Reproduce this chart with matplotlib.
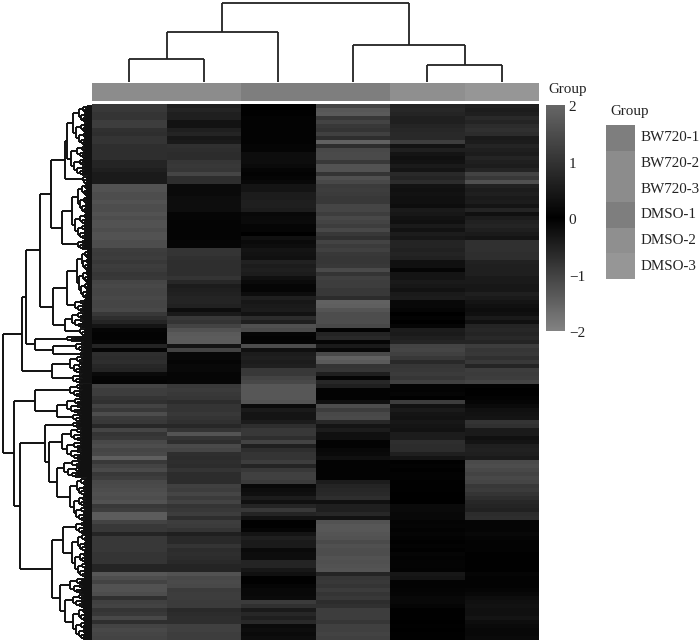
import matplotlib
matplotlib.use('Agg')
import matplotlib.pyplot as plt
import numpy as np
from matplotlib.collections import LineCollection
from matplotlib.colors import LinearSegmentedColormap

plt.rcParams['font.family'] = ['Liberation Serif', 'DejaVu Serif']

W, H = 700, 643

# heatmap rows, top to bottom, column by column
col_a = [1.1,1.1,1.0,1.0,1.2,1.2,.95,.9,1.0,1.0,.9,.9,.9,.9,.7,.7,.6,.5,.5,.5,1.6,1.6,1.5,1.5,1.6,1.5,1.5,1.6,1.5,1.6,1.6,1.5,1.6,1.6,
         1.5,1.5,1.2,1.15,1.2,1.1,1.2,1.15,1.05,1.1,1.35,1.4,1.35,1.35,1.4,1.35,1.35,1.4,1.1,.9,.7,.4,.1,.05,.05,.1,.7,.1,.9,.85,.9,.75,.7,.2,.1,
         .05,1.3,1.2,1.2,1.0,.95,1.3,1.1,1.5,1.15,1.1,.75,1.35,1.0,1.1,1.4,1.5,1.35,1.4,1.85,1.1,1.3,1.45,1.1,1.2,1.4,1.45,1.5,1.55,1.5,1.6,1.1,1.2,
         1.8,1.8,1.3,1.1,1.1,.7,1.1,1.1,1.1,1.1,1.0,1.0,1.0,.7,.7,1.7,1.5,1.3,1.6,1.6,1.5,.95,1.25,1.3,1.0,1.1,1.4,.9,1.3,1.4,1.35,1.3]
col_b = [.6,.7,.6,.6,.35,.35,.6,.7,.45,.5,.95,.9,.85,.85,1.05,1.1,1.05,1.35,.9,.9,.2,.2,.2,.25,.25,.25,.25,.1,.1,.08,.08,.08,.08,.08,
         .1,.1,1.0,1.0,.95,.9,.9,.9,.9,1.0,.75,.55,.6,.65,.7,.7,.65,.25,.5,1.1,1.0,1.3,1.6,1.75,1.8,1.75,.35,1.3,.15,.15,.1,.15,.15,.1,.1,
         .1,1.1,1.15,1.1,1.05,.85,1.0,1.0,1.1,1.0,.95,.75,1.0,1.65,1.0,.9,1.45,1.35,.9,.85,.9,.85,1.0,.85,.85,.85,1.25,1.2,1.35,1.15,1.3,1.0,1.1,
         1.2,.9,1.2,1.15,1.0,.6,.8,.8,1.0,.85,.9,.85,.8,.7,.7,1.6,1.4,1.45,1.4,1.15,1.2,1.2,1.15,1.15,.8,.85,.9,.9,1.25,1.25,1.2,1.2]
col_c = [.02,.02,.02,.05,.05,.05,.05,.05,.05,.05,.1,.1,.25,.25,.25,.2,.1,.05,.1,.15,.4,.4,.55,.55,.6,.6,.55,.15,.2,.2,.1,.1,0,.3,
         .2,.25,.4,.35,.3,.65,.55,.6,.55,.3,.2,.1,.1,.25,.6,.45,.5,.55,.35,.85,.6,1.55,1.45,.1,.05,.1,1.5,.3,.55,.6,.55,.6,1.1,1.1,1.3,
         1.4,1.7,1.7,1.7,1.7,1.65,.2,.5,.4,.4,.55,.9,1.1,1.1,.9,1.3,.6,.9,1.0,1.0,1.2,.7,1.1,1.25,1.25,1.15,.15,.25,.3,.55,.3,.7,1.1,
         .7,.35,.02,.02,.1,.4,.6,.5,.5,.2,.25,.25,.7,.7,.45,.3,.02,.02,.1,.15,.15,.2,1.15,.95,.5,.75,.6,.8,.2,.25,.2,.25]
col_d = [1.35,1.7,1.75,1.1,1.3,1.1,1.0,1.25,.9,1.9,.9,1.4,1.45,1.45,1.1,1.6,1.6,1.0,1.55,1.4,1.15,1.2,1.15,1.1,1.1,1.35,1.35,1.2,1.4,1.3,1.2,1.4,1.1,.95,
         1.3,1.15,1.25,1.1,1.05,1.05,1.1,1.45,1.0,1.25,1.2,1.2,1.1,1.1,.85,1.9,1.85,1.65,1.5,1.5,1.5,1.4,.05,.7,.8,.1,.5,.15,1.45,1.9,1.75,1.0,1.05,.6,.1,
         .75,.6,.05,.05,.05,.3,1.5,1.2,1.4,1.45,.75,.4,.55,.3,.3,.05,.05,.15,.2,.3,.05,.05,.05,.05,.05,.55,.7,.75,.8,.9,.3,.6,.6,
         .75,.35,1.6,1.7,1.7,1.65,1.6,1.45,1.55,1.5,1.5,1.6,1.55,1.6,1.65,.7,1.05,1.1,1.0,1.15,1.0,1.1,.85,.95,1.2,1.2,1.2,1.05,1.25,1.25,1.3,1.25]
col_e = [.7,.75,.7,.6,.6,.7,.75,.8,.8,1.2,.35,.6,.4,.3,.35,.5,.4,.8,.7,.85,.35,.3,.35,.3,.3,.25,.5,.45,.35,.3,.5,.35,.55,.45,
         .7,.7,.65,.7,.65,.3,.3,.1,.4,.4,.5,.45,.35,.5,.55,.15,.15,.1,0,.05,0,.1,.55,.5,.6,.7,1.3,1.35,1.25,1.1,.8,1.05,1.1,1.15,1.05,
         1.25,.05,.05,.1,.02,1.2,.35,.5,.4,.35,.45,.4,.35,.55,.55,.9,.85,.85,.6,.4,.02,.05,.02,.05,.05,.02,.02,.02,0,0,0,.2,.2,
         .15,.15,.08,.1,.05,.1,.05,.02,.05,.02,.1,.05,.08,.08,.05,.45,.4,.05,.05,.08,.1,.15,.15,.1,.02,.02,.02,0,.02,0,.02,.02]
col_f = [.6,.55,.6,.8,.7,.85,.95,.85,.5,.55,.7,.6,.55,.7,.6,.55,.7,1.3,1.1,1.55,.65,.55,.6,.5,.55,.4,.7,.3,.55,.65,.7,.6,.5,.4,
         .95,.95,.95,.9,.9,.65,.6,.6,.6,.5,.5,.45,.45,.6,.5,.4,.3,.25,.3,.5,.3,.7,.75,.7,.8,.7,1.2,1.05,1.1,.95,1.1,.7,1.2,1.15,1.2,
         1.35,.05,.02,.02,.05,.1,.2,.3,.35,.4,1.0,.95,.5,.5,.3,.4,.6,.65,.6,.5,1.45,1.5,1.4,1.3,1.4,1.35,1.1,1.15,1.0,.9,.75,.7,.65,
         .85,.9,.1,.1,.1,.15,.1,.05,.05,.05,.02,.02,.02,.02,.02,.1,.05,.05,.05,.1,.15,.25,.3,.35,.3,.3,.4,.25,.2,.15,.15,.2]

group_names = ['BW720-1', 'BW720-2', 'BW720-3', 'DMSO-1', 'DMSO-2', 'DMSO-3']
group_greys = ['#7e7e7e', '#8c8c8c', '#8c8c8c', '#7e7e7e', '#8f8f8f', '#969696']
column_groups = [1, 2, 0, 3, 4, 5]
bar_ticks = [2, 1, 0, -1, -2]
bar_labels = ['2', '1', '0', '\u22121', '\u22122']

# column tree: [height, left, right], leaves are column numbers
col_tree = [79, [50.5, [23, 0, 1], 2], [37, 3, [17, 4, 5]]]

# row tree: [height, upper, lower], [height, first row, last row] for a fine cluster
row_tree = [89,
    [70,
        [66,
            [52,
                [41,
                    [27, [25, [19, 0.5, 10.5], [21, 10.5, 18]], [9, 18, 20]],
                    [30, [20, [14, 20, 27.5], [17, 27.5, 34]], [14, 34, 36.5]]],
                [39,
                    [25, [15, 36.5, 49], [17, 49, 52]],
                    [27, [20, 52, 56], [12, 56, 58]]]],
            [57, [25, 58, 59.5], [39, [16, 59.5, 62], [12, 62, 63]]]],
        [40, [22, 63, 67.5], [19, 67.5, 70]]],
    [78,
        [57,
            [22, 70, 73.5],
            [35, [25, 73.5, 77.5], [19, 77.5, 79.5]]],
        [72,
            [47,
                [19, 79.5, 81],
                [43, [30, 81, 89], [35, [28, 89, 93.5], [22, 93.5, 104.5]]]],
            [40,
                [29, [16, 104.5, 107.5], [20, 107.5, 118.5]],
                [32, [22, 118.5, 122.5], [27, [19, 122.5, 126], [19, 126, 134]]]]]]]


def px_axes(x0, y0, x1, y1):
    # axes placed by picture pixels, y counted from the top
    return fig.add_axes([x0 / W, 1 - y1 / H, (x1 - x0) / W, (y1 - y0) / H])


def fine_cluster(h, r0, r1, segs):
    # small clusters are too dense to read, so they are split down to the leaf edge
    if r1 - r0 < 0.3:
        c = (r0 + r1) / 2
        segs.append([(0, c), (h, c)])
        return c
    mid = r0 + (r1 - r0) * 0.42
    up = fine_cluster(h * 0.7, r0, mid, segs)
    low = fine_cluster(h * 0.84, mid, r1, segs)
    segs.append([(h, up), (h, low)])
    segs.append([(h * 0.7, up), (h, up)])
    segs.append([(h * 0.84, low), (h, low)])
    return (up + low) / 2


def row_node(node, segs):
    h, a, b = node
    if not isinstance(a, list):
        return h, fine_cluster(h, a, b, segs)
    ha, ya = row_node(a, segs)
    hb, yb = row_node(b, segs)
    segs.append([(h, ya), (h, yb)])
    segs.append([(ha, ya), (h, ya)])
    segs.append([(hb, yb), (h, yb)])
    return h, (ya + yb) / 2


def col_node(node, segs):
    if not isinstance(node, list):
        return 0, node + 0.5
    h, a, b = node
    ha, xa = col_node(a, segs)
    hb, xb = col_node(b, segs)
    segs.append([(xa, h), (xb, h)])
    segs.append([(xa, ha), (xa, h)])
    segs.append([(xb, hb), (xb, h)])
    return h, (xa + xb) / 2


fig = plt.figure(figsize=(W / 100, H / 100), dpi=100)

grey_map = LinearSegmentedColormap.from_list(
    'grey_map', [(0, '#828282'), (0.25, '#414141'), (0.5, '#000000'), (1, '#666666')])

# heatmap
values = np.column_stack([col_a, col_b, col_c, col_d, col_e, col_f])
ax = px_axes(92, 104, 539, 640)
mesh = ax.pcolormesh(values, cmap=grey_map, vmin=-2, vmax=2)
ax.set_ylim(len(values), 0)
ax.axis('off')

# group strip on top of the heatmap
ax_strip = px_axes(92, 83, 539, 101)
ax_strip.pcolormesh([[int(group_greys[g][1:3], 16) for g in column_groups]], cmap='gray', vmin=0, vmax=255)
ax_strip.axis('off')
fig.text(548 / W, 1 - 90 / H, 'Group', fontsize=10.8, va='center', color='#222222')

# column dendrogram
ax_top = px_axes(92, 0, 539, 82)
segs = []
col_node(col_tree, segs)
ax_top.add_collection(LineCollection(segs, colors='#222222', linewidths=1.3))
ax_top.set_xlim(0, 6)
ax_top.set_ylim(0, 82)
ax_top.axis('off')

# row dendrogram
ax_left = px_axes(0, 104, 92, 640)
segs = []
row_node(row_tree, segs)
ax_left.add_collection(LineCollection(segs, colors='#111111', linewidths=1.4))
ax_left.set_xlim(92, 0)
ax_left.set_ylim(len(values), 0)
ax_left.axis('off')

# colour bar
cax = px_axes(546, 105, 565, 331)
cbar = fig.colorbar(mesh, cax=cax)
cbar.outline.set_visible(False)
cbar.set_ticks([])
for v, lab in zip(bar_ticks, bar_labels):
    cax.text(1.2, v - 0.05, lab, transform=cax.get_yaxis_transform(), fontsize=11,
             va='center', ha='left', color='#222222')

# group legend
ax_leg = px_axes(606, 125, 635, 279)
ax_leg.pcolormesh([[int(c[1:3], 16)] for c in group_greys], cmap='gray', vmin=0, vmax=255)
ax_leg.set_ylim(len(group_greys), 0)
ax_leg.axis('off')
for i, name in enumerate(group_names):
    ax_leg.text(1.2, i + 0.5, name, transform=ax_leg.get_yaxis_transform(), fontsize=10.8,
                va='center', ha='left', color='#222222')
fig.text(610 / W, 1 - 111 / H, 'Group', fontsize=10.8, va='center', color='#222222')

fig.savefig('out.png', dpi=100)
